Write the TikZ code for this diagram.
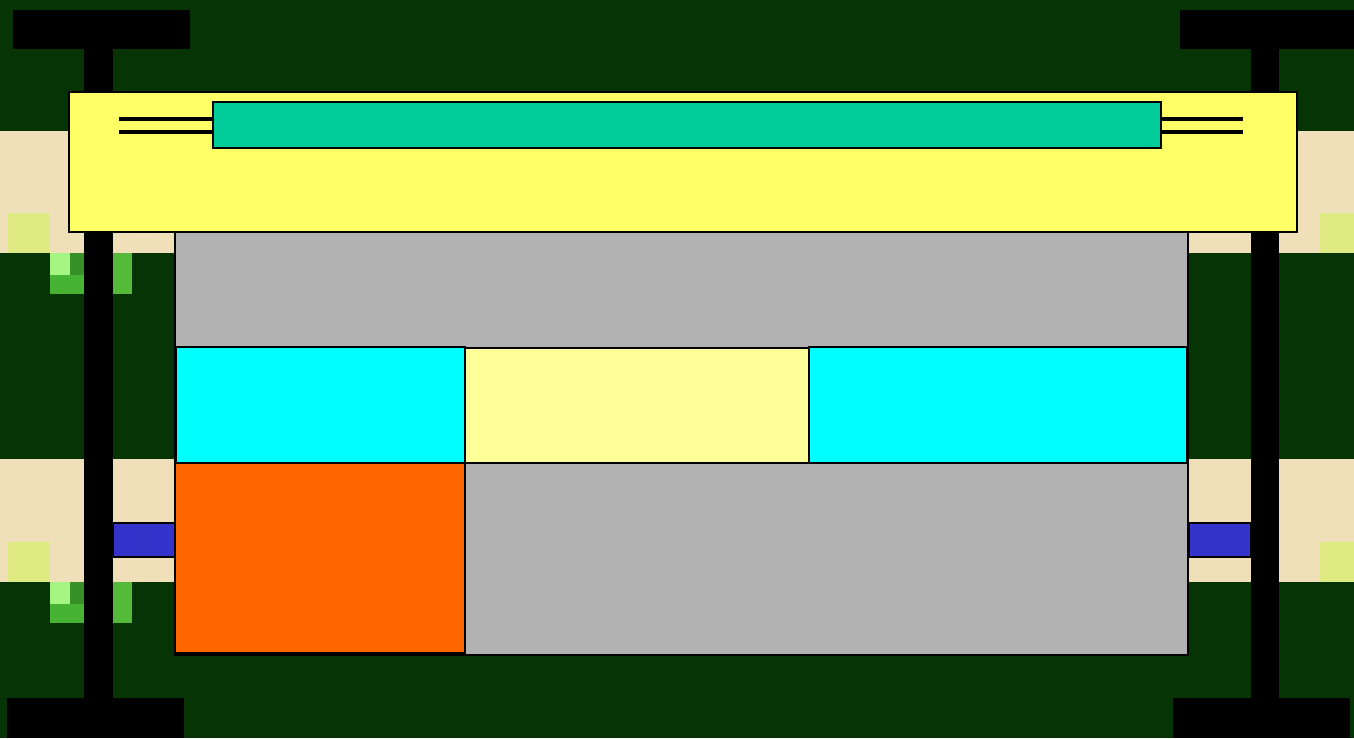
\documentclass[tikz,border=0pt]{standalone}
\usepackage{tikz}

\definecolor{grass}{RGB}{7,52,5}
\definecolor{sand}{RGB}{240,224,186}
\definecolor{lime}{RGB}{222,234,130}
\definecolor{leafA}{RGB}{165,245,130}
\definecolor{leafB}{RGB}{70,180,50}
\definecolor{signyellow}{RGB}{255,255,102}
\definecolor{bannergreen}{RGB}{0,204,153}
\definecolor{panelgray}{RGB}{178,178,178}
\definecolor{paleyellow}{RGB}{255,255,153}
\definecolor{aqua}{RGB}{0,255,255}
\definecolor{barblue}{RGB}{51,51,204}
\definecolor{boxorange}{RGB}{255,102,0}

\begin{document}
\begin{tikzpicture}[x=0.02cm, y=-0.02cm, line join=miter,
    panel/.style={draw=black, line width=0.8pt}]
    % ground
    \fill[grass] (0,0) rectangle (1354,738);
    \useasboundingbox (0,0) rectangle (1354,738);

    % sand strips
    \foreach \ya/\yb in {131/253, 459/582}
    {
        \fill[sand] (0,\ya) rectangle (1354,\yb);
        \fill[lime] (8,\yb-40) rectangle (50,\yb);
        \fill[lime] (1320,\yb-40) rectangle (1354,\yb);
        \fill[leafA] (50,\yb) rectangle (70,\yb+22);
        \fill[leafB] (50,\yb+22) rectangle (84,\yb+41);
        \fill[leafB!80!black] (70,\yb) rectangle (84,\yb+22);
        \fill[leafB!90!lime] (113,\yb) rectangle (132,\yb+41);
    }

    % posts
    \foreach \xa/\xb/\ta/\tb/\ba/\bb in {84/113/13/190/7/184, 1251/1279/1180/1354/1173/1350}
    {
        \fill[black] (\xa,10) rectangle (\xb,720);
        \fill[black] (\ta,10) rectangle (\tb,49);
        \fill[black] (\ba,698) rectangle (\bb,738);
    }

    % blue rails
    \draw[panel, fill=barblue] (113,523) rectangle (175,557);
    \draw[panel, fill=barblue] (1189,523) rectangle (1251,557);

    % header
    \draw[panel, fill=signyellow] (69,92) rectangle (1297,232);
    \draw[panel, fill=bannergreen] (213,102) rectangle (1161,148);
    \foreach \y in {119,132}
    {
        \draw[line width=2pt] (119,\y) -- (213,\y);
        \draw[line width=2pt] (1161,\y) -- (1243,\y);
    }

    % body
    \draw[panel, fill=panelgray] (175,232) rectangle (1188,655);
    \draw[panel, fill=aqua] (176,347) rectangle (465,463);
    \draw[panel, fill=paleyellow] (465,348) rectangle (809,463);
    \draw[panel, fill=aqua] (809,347) rectangle (1187,463);
    \draw[panel, fill=boxorange] (175,463) rectangle (465,653);
\end{tikzpicture}
\end{document}
